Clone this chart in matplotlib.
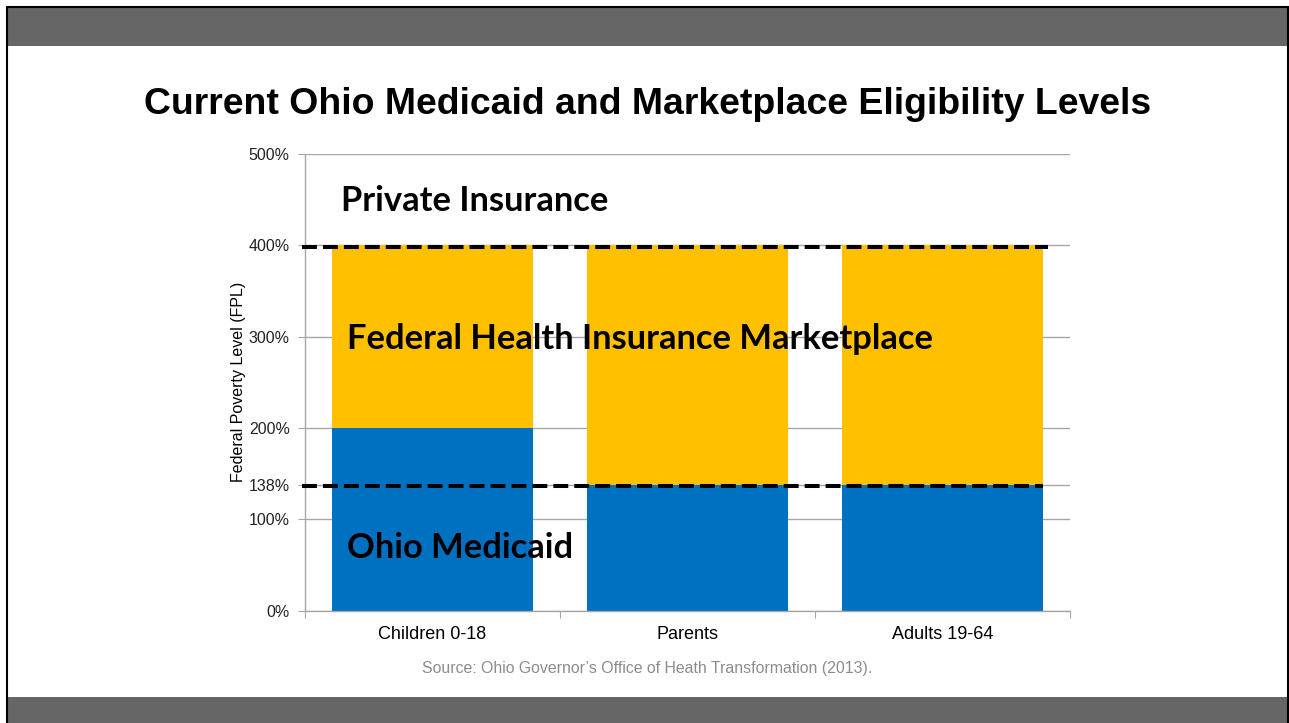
import matplotlib
matplotlib.use('Agg')
import matplotlib.pyplot as plt
import numpy as np
from matplotlib.patches import Rectangle

# data
groups = ['Children 0-18', 'Parents', 'Adults 19-64']
medicaid = [200, 138, 138]
marketplace_top = [400, 400, 400]
medicaid_line = 138
private_line = 400
ytick_vals = [0, 100, 138, 200, 300, 400, 500]
ytick_text = ['0%', '100%', '138%', '200%', '300%', '400%', '500%']

blue = '#0070C0'
gold = '#FFC000'
grid_col = '#A6A6A6'

fig = plt.figure(figsize=(12.89, 7.23), dpi=100)

# slide frame: gray bands + thin black border
fig.patches.append(Rectangle((0.0047, 0.937), 0.995, 0.054, transform=fig.transFigure,
                             facecolor='#666666', edgecolor='none', zorder=0))
fig.patches.append(Rectangle((0.0047, 0.0), 0.995, 0.036, transform=fig.transFigure,
                             facecolor='#666666', edgecolor='none', zorder=0))
fig.patches.append(Rectangle((0.0054, -0.01), 0.9938, 1.0, transform=fig.transFigure,
                             facecolor='none', edgecolor='black', linewidth=1.5, zorder=1))

ax = fig.add_axes([0.2366, 0.1553, 0.5935, 0.6317])
x = np.arange(len(groups))
w = 0.79
top_part = [t - m for t, m in zip(marketplace_top, medicaid)]
ax.bar(x, medicaid, width=w, color=blue, zorder=2)
ax.bar(x, top_part, width=w, bottom=medicaid, color=gold, zorder=2)

ax.set_xlim(-0.5, len(groups) - 0.5)
ax.set_ylim(0, 500)
ax.set_yticks(ytick_vals)
ax.set_yticklabels(ytick_text, fontsize=11.5, family='Liberation Sans', color='#222222')
ax.yaxis.grid(True, color=grid_col, linewidth=1.0, zorder=0)
ax.set_axisbelow(True)

# x ticks sit on category boundaries, labels in the middle
ax.set_xticks(np.arange(len(groups) + 1) - 0.5)
ax.set_xticklabels([])
ax.set_xticks(x, minor=True)
ax.set_xticklabels(groups, minor=True, fontsize=13, family='Liberation Sans')
ax.tick_params(axis='x', which='minor', length=0, pad=11)
ax.tick_params(axis='x', which='major', length=5, color=grid_col, direction='out')
ax.tick_params(axis='y', length=5, color=grid_col, pad=6)

for s in ['top', 'right']:
    ax.spines[s].set_visible(False)
for s in ['left', 'bottom']:
    ax.spines[s].set_color(grid_col)
    ax.spines[s].set_linewidth(1.0)

ax.set_ylabel('Federal Poverty Level (FPL)', fontsize=11.5, family='Liberation Sans', labelpad=2)
ax.yaxis.label.set_position((0, 0.502))

# dashed threshold lines
dash = (0, (3.7, 1.5))
ax.plot([-0.51, x[-1] + w / 2 + 0.02], [private_line - 2, private_line - 2], color='black',
        linewidth=2.9, linestyle=dash, zorder=4, clip_on=False)
ax.plot([-0.51, x[-1] + w / 2], [medicaid_line - 2, medicaid_line - 2], color='black',
        linewidth=2.9, linestyle=dash, zorder=4, clip_on=False)

# region labels
lab_font = dict(family='Lato', fontweight='bold', fontsize=24.8, color='black', zorder=5)
ax.text(-0.358, 448, 'Private Insurance', va='center', ha='left', **lab_font)
ax.text(-0.335, 298, 'Federal Health Insurance Marketplace', va='center', ha='left', **lab_font)
ax.text(-0.337, 69, 'Ohio Medicaid', va='center', ha='left', **lab_font)

fig.text(0.502, 0.855, 'Current Ohio Medicaid and Marketplace Eligibility Levels',
         ha='center', va='center', fontsize=26.9, fontweight='bold', family='Liberation Sans')
fig.text(0.502, 0.075, 'Source: Ohio Governor\u2019s Office of Heath Transformation (2013).',
         ha='center', va='center', fontsize=11.4, color='#8C8C8C', family='Liberation Sans')

fig.savefig('out.png', dpi=100)
